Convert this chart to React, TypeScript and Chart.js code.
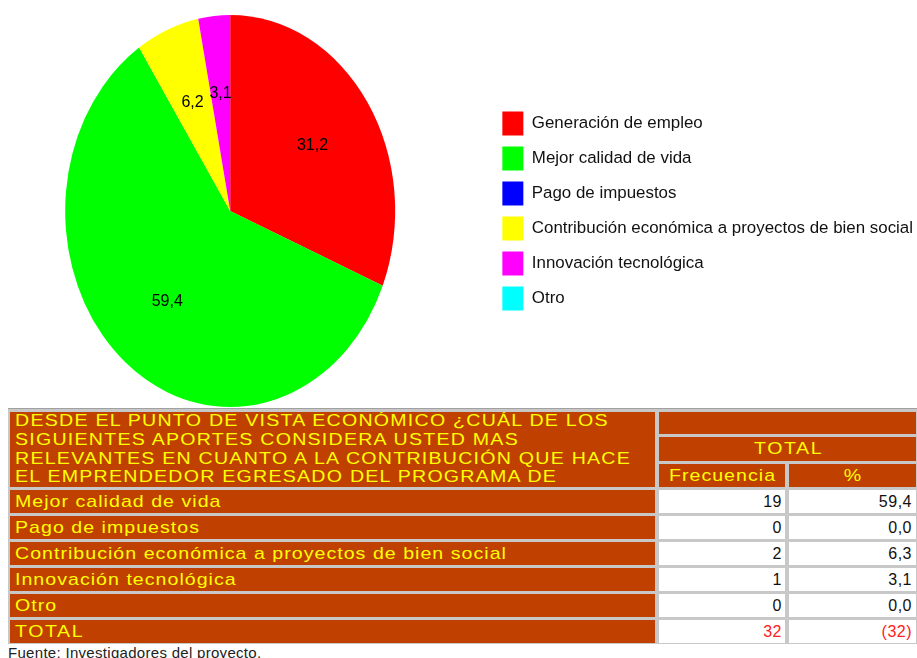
import React, { useEffect, useRef } from 'react';
import { Chart, registerables } from 'chart.js';

Chart.register(...registerables);

// ---- Pie data ----
const categories = [
  'Generación de empleo',
  'Mejor calidad de vida',
  'Pago de impuestos',
  'Contribución económica a proyectos de bien social',
  'Innovación tecnológica',
  'Otro',
];
const percentValues = [31.2, 59.4, 0, 6.2, 3.1, 0];
const sliceColors = ['#FF0000', '#00FF00', '#0000FF', '#FFFF00', '#FF00FF', '#00FFFF'];

// ---- Table data ----
const headerLines = [
  'DESDE EL PUNTO DE VISTA ECONÓMICO ¿CUÁL DE LOS',
  'SIGUIENTES APORTES CONSIDERA USTED MAS',
  'RELEVANTES EN CUANTO A LA CONTRIBUCIÓN QUE HACE',
  'EL EMPRENDEDOR EGRESADO DEL PROGRAMA DE',
];
const totalHeader = 'TOTAL';
const frequencyHeader = 'Frecuencia';
const percentHeader = '%';
const tableCategories = [
  'Mejor calidad de vida',
  'Pago de impuestos',
  'Contribución económica a proyectos de bien social',
  'Innovación tecnológica',
  'Otro',
];
const tableFrequencies = [19, 0, 2, 1, 0];
const tablePercents = [59.4, 0, 6.3, 3.1, 0];
const totalRowLabel = 'TOTAL';
const totalFrequency = 32;
const totalPercentLabel = '(32)';
const footnote = 'Fuente: Investigadores del proyecto.';

const Y_STRETCH = 196 / 165;
const fmt = (v: number) => v.toFixed(1).replace('.', ',');

const ellipsePlugin = {
  id: 'ellipsePie',
  beforeDatasetsDraw(chart: any) {
    const arc = chart.getDatasetMeta(0).data[0];
    const ctx = chart.ctx;
    ctx.save();
    ctx.translate(arc.x, arc.y);
    ctx.scale(1, Y_STRETCH);
    ctx.translate(-arc.x, -arc.y);
  },
  afterDatasetsDraw(chart: any) {
    const ctx = chart.ctx;
    ctx.restore();
    const meta = chart.getDatasetMeta(0);
    ctx.save();
    ctx.font = '16px "Liberation Sans", Arial, sans-serif';
    ctx.fillStyle = '#000';
    ctx.textAlign = 'center';
    ctx.textBaseline = 'middle';
    meta.data.forEach((el: any, i: number) => {
      const v = chart.data.datasets[0].data[i];
      if (!v) return;
      const p = el.getProps(['x', 'y', 'startAngle', 'endAngle', 'outerRadius'], true);
      const mid = (p.startAngle + p.endAngle) / 2;
      const r = p.outerRadius * 0.6;
      ctx.fillText(fmt(v), p.x + Math.cos(mid) * r, p.y + Math.sin(mid) * r * Y_STRETCH);
    });
    ctx.restore();
  },
};

const BROWN = '#C04000';
const YELLOW = '#FFFF00';
const FONT = '"Liberation Sans", Arial, sans-serif';
const SX = 1.15;

function Wide({ children, ls, center }: { children: React.ReactNode; ls: number; center?: boolean }) {
  return (
    <span
      style={{
        display: 'inline-block',
        letterSpacing: ls,
        transform: `scaleX(${SX})`,
        transformOrigin: center ? '50% 50%' : '0 50%',
        paddingLeft: center ? ls : 0,
      }}
    >
      {children}
    </span>
  );
}

export default function App() {
  const canvasRef = useRef<HTMLCanvasElement | null>(null);

  useEffect(() => {
    if (!canvasRef.current) return;
    const chart = new Chart(canvasRef.current, {
      type: 'pie',
      data: {
        labels: categories,
        datasets: [
          {
            data: percentValues,
            backgroundColor: sliceColors,
            borderWidth: 0,
            hoverOffset: 0,
            clip: false,
          } as any,
        ],
      },
      options: {
        responsive: false,
        animation: false,
        devicePixelRatio: 1,
        events: [],
        radius: 165,
        layout: { padding: { left: 0, right: 0, top: 46, bottom: 32 } },
        plugins: {
          legend: {
            position: 'right',
            align: 'center',
            labels: {
              boxWidth: 21,
              boxHeight: 24,
              padding: 11,
              color: '#111',
              font: { family: FONT, size: 16.9 },
            },
          },
          tooltip: { enabled: false },
        },
      } as any,
      plugins: [ellipsePlugin],
    });
    return () => chart.destroy();
  }, []);

  const brownCell: React.CSSProperties = {
    background: BROWN,
    color: YELLOW,
    fontFamily: FONT,
    fontSize: 17,
    whiteSpace: 'nowrap',
    overflow: 'hidden',
  };
  const whiteCell: React.CSSProperties = {
    background: '#FFFFFF',
    color: '#111',
    fontFamily: FONT,
    fontSize: 16,
    lineHeight: '23px',
    textAlign: 'right',
    letterSpacing: 0.5,
    whiteSpace: 'nowrap',
    overflow: 'hidden',
  };

  return (
    <div style={{ position: 'absolute', left: 0, top: 0, width: 917, height: 658, overflow: 'hidden', background: '#fff' }}>
      <div style={{ height: 408, position: 'relative' }}>
        <canvas
          ref={canvasRef}
          width={954}
          height={408}
          style={{ display: 'block', position: 'absolute', left: -31, top: 0 }}
        />
      </div>
      <div
        style={{
          marginLeft: 8,
          width: 909,
          boxSizing: 'border-box',
          background: '#C8C8C8',
          borderTop: '1px solid #A0A0A0',
          padding: '3px 1px 1px 2px',
          display: 'grid',
          gridTemplateColumns: '645px 126px 127px',
          gridTemplateRows: '22px 24px 23px repeat(6, 23px)',
          columnGap: 4,
          rowGap: 3,
        }}
      >
        <div style={{ ...brownCell, gridColumn: '1', gridRow: '1 / span 3', paddingLeft: 5, lineHeight: '18.75px' }}>
          {headerLines.map((l, i) => (
            <div key={i}>
              <Wide ls={1.1}>{l}</Wide>
            </div>
          ))}
        </div>
        <div style={{ ...brownCell, gridColumn: '2 / span 2', gridRow: '1' }} />
        <div style={{ ...brownCell, gridColumn: '2 / span 2', gridRow: '2', lineHeight: '24px', textAlign: 'center' }}>
          <Wide ls={1.4} center>{totalHeader}</Wide>
        </div>
        <div style={{ ...brownCell, gridColumn: '2', gridRow: '3', lineHeight: '23px', textAlign: 'center' }}>
          <Wide ls={0.9} center>{frequencyHeader}</Wide>
        </div>
        <div style={{ ...brownCell, gridColumn: '3', gridRow: '3', lineHeight: '23px', textAlign: 'center' }}>
          <Wide ls={0} center>{percentHeader}</Wide>
        </div>
        {tableCategories.map((c, i) => (
          <React.Fragment key={c}>
            <div style={{ ...brownCell, gridColumn: '1', gridRow: String(4 + i), paddingLeft: 5, lineHeight: '23px' }}>
              <Wide ls={0.9}>{c}</Wide>
            </div>
            <div style={{ ...whiteCell, gridColumn: '2', gridRow: String(4 + i), paddingRight: 3 }}>{tableFrequencies[i]}</div>
            <div style={{ ...whiteCell, gridColumn: '3', gridRow: String(4 + i), paddingRight: 4 }}>{fmt(tablePercents[i])}</div>
          </React.Fragment>
        ))}
        <div style={{ ...brownCell, gridColumn: '1', gridRow: '9', paddingLeft: 5, lineHeight: '23px' }}>
          <Wide ls={1.4}>{totalRowLabel}</Wide>
        </div>
        <div style={{ ...whiteCell, gridColumn: '2', gridRow: '9', paddingRight: 3, color: '#FF2020' }}>{totalFrequency}</div>
        <div style={{ ...whiteCell, gridColumn: '3', gridRow: '9', paddingRight: 4, color: '#FF2020' }}>{totalPercentLabel}</div>
      </div>
      <div style={{ marginLeft: 8, fontFamily: FONT, fontSize: 15, lineHeight: '17px', letterSpacing: 0.3, color: '#222', whiteSpace: 'nowrap' }}>
        {footnote}
      </div>
    </div>
  );
}
